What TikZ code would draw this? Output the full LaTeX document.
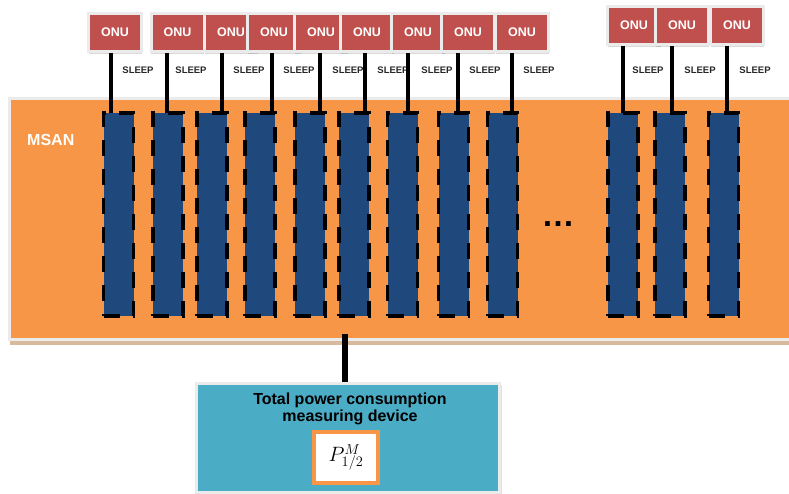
\documentclass[tikz,border=0pt]{standalone}
\usepackage[no-math]{fontspec}
\setmainfont{Liberation Sans}
\usetikzlibrary{shadows}

\definecolor{msanorange}{HTML}{F79646}
\definecolor{bladeblue}{HTML}{1F497D}
\definecolor{onured}{HTML}{C0504D}
\definecolor{meterteal}{HTML}{4BACC6}
\definecolor{framegray}{HTML}{EBEBEB}
\definecolor{shadowtan}{HTML}{D9B99B}

\tikzset{
  onu/.style={rectangle, fill=onured, draw=framegray, line width=3pt,
    minimum width=53pt, minimum height=38pt, inner sep=0pt, text=white,
    font=\fontsize{12.5}{13}\selectfont\bfseries,
    drop shadow={opacity=0.3, shadow xshift=0pt, shadow yshift=-3pt}},
  blade/.style={rectangle, fill=bladeblue, draw=black, line width=3.8pt,
    dash pattern=on 16pt off 13pt, minimum width=30pt, minimum height=203pt,
    inner sep=0pt},
  sleeplabel/.style={font=\fontsize{9.5}{10}\selectfont\bfseries,
    text=black!85, inner sep=0pt},
  wire/.style={line width=4pt, black},
  bus/.style={line width=6.5pt, black},
}

\begin{document}
\begin{tikzpicture}[x=1pt, y=-1pt]
\useasboundingbox (0,0) rectangle (789,494);

% MSAN shelf
\node [rectangle, fill=msanorange, draw=framegray, line width=3pt,
  minimum width=781.5pt, minimum height=241pt,
  drop shadow={fill=shadowtan, opacity=1, shadow xshift=0pt, shadow yshift=-5pt}]
  (msan) at (400.25,219) {};
\node [anchor=west, text=white, inner sep=0pt,
  font=\fontsize{16}{17}\selectfont\bfseries] (msanlabel) at (27,140) {MSAN};

% line cards
\node [blade] (blade1) at (118.5,214.5) {};
\node [blade] (blade2) at (168,214.5) {};
\node [blade] (blade3) at (212,214.5) {};
\node [blade] (blade4) at (260,214.5) {};
\node [blade] (blade5) at (310,214.5) {};
\node [blade] (blade6) at (354,214.5) {};
\node [blade] (blade7) at (402.5,214.5) {};
\node [blade] (blade8) at (453.5,214.5) {};
\node [blade] (blade9) at (502.5,214.5) {};
\node [blade] (blade10) at (623,214.5) {};
\node [blade] (blade11) at (670,214.5) {};
\node [blade] (blade12) at (723.5,214.5) {};

\node [inner sep=0pt, font=\fontsize{33}{33}\selectfont\bfseries] (dots) at (558,224) {…};

% sleep labels
\node [sleeplabel] (sleep1) at (138,70) {SLEEP};
\node [sleeplabel] (sleep2) at (191,70) {SLEEP};
\node [sleeplabel] (sleep3) at (249,70) {SLEEP};
\node [sleeplabel] (sleep4) at (299,70) {SLEEP};
\node [sleeplabel] (sleep5) at (348,70) {SLEEP};
\node [sleeplabel] (sleep6) at (393,70) {SLEEP};
\node [sleeplabel] (sleep7) at (437,70) {SLEEP};
\node [sleeplabel] (sleep8) at (485,70) {SLEEP};
\node [sleeplabel] (sleep9) at (539,70) {SLEEP};
\node [sleeplabel] (sleep10) at (648,70) {SLEEP};
\node [sleeplabel] (sleep11) at (700,70) {SLEEP};
\node [sleeplabel] (sleep12) at (755,70) {SLEEP};

% ONUs
\node [onu] (onu1) at (115,32.5) {ONU};
\node [onu] (onu2) at (177.5,32.5) {ONU};
\node [onu] (onu3) at (231,32.5) {ONU};
\node [onu] (onu4) at (274,32.5) {ONU};
\node [onu] (onu5) at (321,32.5) {ONU};
\node [onu] (onu6) at (367,32.5) {ONU};
\node [onu] (onu7) at (418,32.5) {ONU};
\node [onu] (onu8) at (468,32.5) {ONU};
\node [onu] (onu9) at (522,32.5) {ONU};
\node [onu] (onu10) at (634,25.5) {ONU};
\node [onu] (onu11) at (682,25.5) {ONU};
\node [onu] (onu12) at (737,25.5) {ONU};

\draw [wire] ([xshift=-4pt]onu1.south) -- ([xshift=-4pt,yshift=-2pt]onu1.south |- blade1.north);
\draw [wire] ([xshift=-10.5pt]onu2.south) -- ([xshift=-10.5pt,yshift=-2pt]onu2.south |- blade2.north);
\draw [wire] ([xshift=-9pt]onu3.south) -- ([xshift=-9pt,yshift=-2pt]onu3.south |- blade3.north);
\draw [wire] ([xshift=-2pt]onu4.south) -- ([xshift=-2pt,yshift=-2pt]onu4.south |- blade4.north);
\draw [wire] ([xshift=-1pt]onu5.south) -- ([xshift=-1pt,yshift=-2pt]onu5.south |- blade5.north);
\draw [wire] ([xshift=-2pt]onu6.south) -- ([xshift=-2pt,yshift=-2pt]onu6.south |- blade6.north);
\draw [wire] ([xshift=-10pt]onu7.south) -- ([xshift=-10pt,yshift=-2pt]onu7.south |- blade7.north);
\draw [wire] ([xshift=-10pt]onu8.south) -- ([xshift=-10pt,yshift=-2pt]onu8.south |- blade8.north);
\draw [wire] ([xshift=-10pt]onu9.south) -- ([xshift=-10pt,yshift=-2pt]onu9.south |- blade9.north);
\draw [wire] ([xshift=-11pt]onu10.south) -- ([xshift=-11pt,yshift=-2pt]onu10.south |- blade10.north);
\draw [wire] ([xshift=-10pt]onu11.south) -- ([xshift=-10pt,yshift=-2pt]onu11.south |- blade11.north);
\draw [wire] ([xshift=-10pt]onu12.south) -- ([xshift=-10pt,yshift=-2pt]onu12.south |- blade12.north);

% measuring device
\node [rectangle, fill=meterteal, draw=framegray, line width=3pt,
  minimum width=303pt, minimum height=109pt,
  drop shadow={opacity=0.25, shadow xshift=2pt, shadow yshift=-1pt}]
  (device) at (348,438) {};
\node [anchor=north, align=center, inner sep=0pt,
  font=\fontsize{16}{17}\selectfont\bfseries] (devicetitle)
  at ([xshift=2pt,yshift=-10.5pt]device.north) {Total power consumption\\measuring device};
\node [rectangle, fill=white, draw=msanorange, line width=4pt,
  minimum width=64pt, minimum height=51pt, inner sep=0pt,
  font=\fontsize{20}{22}\selectfont] (pbox) at (346,457.5) {$P^{M}_{1/2}$};
\draw [msanorange, line width=0.8pt] ([xshift=3.5pt,yshift=-3.5pt]pbox.north west)
  rectangle ([xshift=-3.5pt,yshift=3.5pt]pbox.south east);

\draw [bus] ([xshift=-3pt]device.north) -- ([xshift=-3pt,yshift=7pt]device.north |- msan.south);

\end{tikzpicture}
\end{document}
